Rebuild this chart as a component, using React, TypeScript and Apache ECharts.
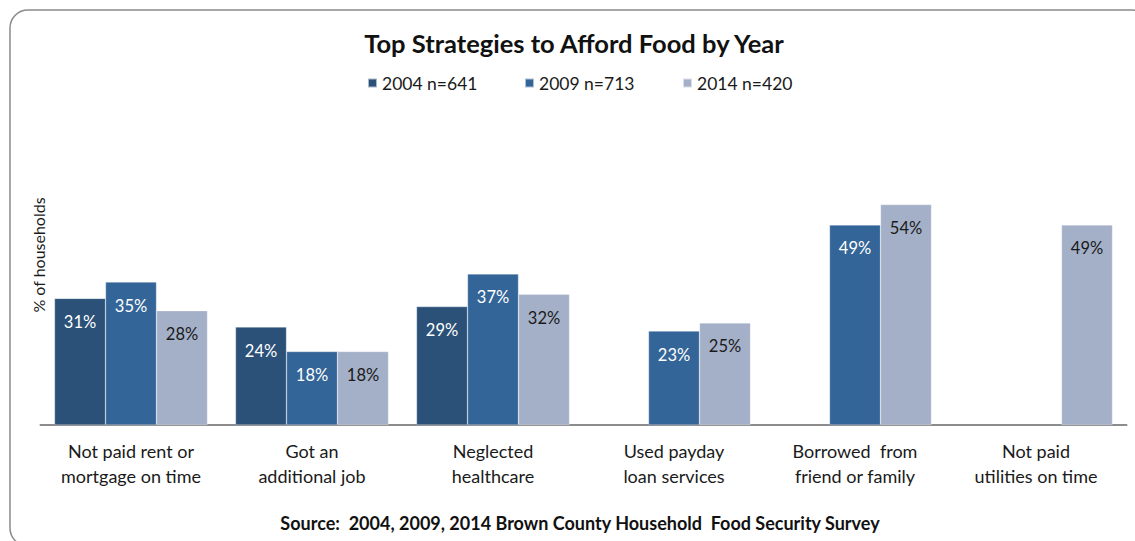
import React, { useEffect, useRef } from "react";
import * as echarts from "echarts";

const categories = [
  "Not paid rent or\nmortgage on time",
  "Got an\nadditional job",
  "Neglected\nhealthcare",
  "Used payday\nloan services",
  "Borrowed  from\nfriend or family",
  "Not paid\nutilities on time",
];
const seriesNames = ["2004 n=641", "2009 n=713", "2014 n=420"];
const values2004 = [31, 24, 29, null, null, null];
const values2009 = [35, 18, 37, 23, 49, null];
const values2014 = [28, 18, 32, 25, 54, 49];
const colors = ["#2B5179", "#346598", "#A4B0C8"];
const labelColors = ["#ffffff", "#ffffff", "#1a1a1a"];
const titleText = "Top Strategies to Afford Food by Year";
const yName = "% of households";
const sourceText = "Source:  2004, 2009, 2014 Brown County Household  Food Security Survey";

const FONT = "Lato, 'Open Sans', sans-serif";

export default function App() {
  const ref = useRef<HTMLDivElement>(null);
  useEffect(() => {
    if (!ref.current) return;
    const chart = echarts.init(ref.current, null, { renderer: "svg" });
    const data = [values2004, values2009, values2014];
    const legendLefts = [362, 519, 677];
    chart.setOption({
      animation: false,
      backgroundColor: "#ffffff",
      textStyle: { fontFamily: FONT },
      legend: seriesNames.map((n, i) => ({
        data: [n],
        left: legendLefts[i],
        top: 69,
        itemWidth: 9,
        itemHeight: 9,
        itemGap: 0,
        icon: "rect",
        textStyle: { fontSize: 17.5, color: "#1a1a1a", fontFamily: FONT },
        selectedMode: false,
      })),
      grid: { left: 40.5, right: 8.5, top: 180, bottom: 116, containLabel: false },
      xAxis: {
        type: "category",
        data: categories,
        axisTick: { show: false },
        axisLine: { lineStyle: { color: "#8c8c8c", width: 2 } },
        axisLabel: {
          interval: 0,
          fontSize: 18,
          lineHeight: 25,
          margin: 13,
          color: "#1a1a1a",
          fontFamily: FONT,
        },
      },
      yAxis: {
        type: "value",
        min: 0,
        max: 60,
        show: false,
        splitLine: { show: false },
      },
      series: seriesNames.map((n, i) => ({
        name: n,
        type: "bar",
        data: data[i],
        barWidth: 51,
        barGap: "0%",
        itemStyle: { color: colors[i], borderColor: "rgba(255,255,255,0.6)", borderWidth: 0.5 },
        label: {
          show: true,
          position: "insideTop",
          distance: 15,
          formatter: "{c}%",
          fontSize: 16.5,
          color: labelColors[i],
          fontFamily: FONT,
        },
      })),
      graphic: [
        {
          type: "rect",
          shape: { x: 10, y: 10, width: 1140, height: 536, r: 18 },
          style: { fill: "none", stroke: "#8a8a8a", lineWidth: 1.5 },
          silent: true,
        },
        {
          type: "text",
          x: 574,
          y: 43,
          style: {
            text: titleText,
            fontSize: 25.5,
            fontWeight: "bold",
            fill: "#111",
            fontFamily: FONT,
            align: "center",
            verticalAlign: "middle",
          },
        },
        {
          type: "text",
          x: 38,
          y: 255,
          rotation: Math.PI / 2,
          style: {
            text: yName,
            fontSize: 16,
            fill: "#1a1a1a",
            fontFamily: FONT,
            align: "center",
            verticalAlign: "middle",
          },
        },
        {
          type: "text",
          x: 580,
          y: 523,
          style: {
            text: sourceText,
            fontSize: 18,
            fontWeight: "bold",
            fill: "#111",
            fontFamily: FONT,
            align: "center",
            verticalAlign: "middle",
          },
        },
      ],
    });
    return () => chart.dispose();
  }, []);
  return (
    <div
      ref={ref}
      style={{ position: "absolute", left: 0, top: 0, width: 1135, height: 541 }}
    />
  );
}
